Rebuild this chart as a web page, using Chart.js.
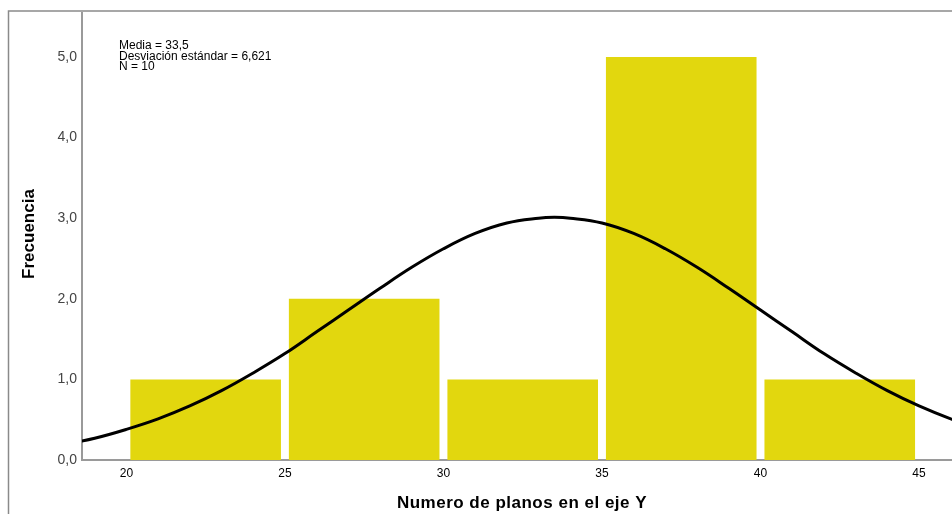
<!DOCTYPE html>
<html>
<head>
<meta charset="utf-8">
<script src="https://cdn.jsdelivr.net/npm/chart.js@4.4.1/dist/chart.umd.min.js"></script>
<style>
  html, body { margin: 0; padding: 0; background: #fff; }
  #wrap { width: 952px; height: 514px; position: relative; }
</style>
</head>
<body>
<div id="wrap"><canvas id="c" width="952" height="514"></canvas></div>
<script>
// Histogram bins (lower edge, upper edge) and their counts
const binStarts = [20, 25, 30, 35, 40];
const binEnds   = [25, 30, 35, 40, 45];
const counts    = [1, 2, 1, 5, 1];

// Fitted normal curve, sampled at whole values of the x axis
const curveX = [18, 19, 20, 21, 22, 23, 24, 25, 26, 27, 28, 29, 30, 31, 32, 33, 33.5, 34, 35, 36, 37, 38, 39, 40, 41, 42, 43, 44, 45, 46, 47];
const curveY = [0.19, 0.27, 0.38, 0.51, 0.67, 0.86, 1.08, 1.32, 1.59, 1.86, 2.13, 2.39, 2.62, 2.81, 2.94, 3.00, 3.01, 3.00, 2.94, 2.81, 2.62, 2.39, 2.13, 1.86, 1.59, 1.32, 1.08, 0.86, 0.67, 0.51, 0.38];

// Axis ticks
const xTicks = [20, 25, 30, 35, 40, 45];
const yTicks = [0, 1, 2, 3, 4, 5];

// Summary statistics
const statLines = ['Media = 33,5', 'Desviación estándar = 6,621', 'N = 10'];

const barData = binStarts.map((s, i) => ({ x: (s + binEnds[i]) / 2, y: counts[i] }));
const lineData = curveX.map((x, i) => ({ x: x, y: curveY[i] }));

const FONT = '"Liberation Sans", Arial, sans-serif';

const framePlugin = {
  id: 'frame',
  afterDraw(chart) {
    const ctx = chart.ctx;
    ctx.save();
    // outer frame: left and top edges
    ctx.strokeStyle = '#8a8a8a';
    ctx.lineWidth = 1.5;
    ctx.beginPath();
    ctx.moveTo(8.5, 514);
    ctx.lineTo(8.5, 11);
    ctx.lineTo(952, 11);
    ctx.stroke();

    // statistics box
    ctx.fillStyle = '#000';
    ctx.font = '12px ' + FONT;
    ctx.textBaseline = 'alphabetic';
    ctx.textAlign = 'left';
    statLines.forEach((t, i) => ctx.fillText(t, 119, 49 + i * 10.5));

    // axis titles
    ctx.font = 'bold 17px ' + FONT;
    ctx.textAlign = 'center';
    ctx.textBaseline = 'alphabetic';
    ctx.letterSpacing = '0.5px';
    ctx.fillText('Numero de planos en el eje Y', 522, 508);
    ctx.letterSpacing = '0px';
    ctx.textBaseline = 'middle';
    ctx.translate(29, 234);
    ctx.rotate(-Math.PI / 2);
    ctx.fillText('Frecuencia', 0, 0);
    ctx.restore();
  }
};

new Chart(document.getElementById('c'), {
  data: {
    datasets: [
      {
        type: 'line',
        data: lineData,
        borderColor: '#000',
        borderWidth: 3,
        pointRadius: 0,
        tension: 0.4,
        fill: false,
        order: 0
      },
      {
        type: 'bar',
        data: barData,
        backgroundColor: '#e2d70e',
        borderWidth: 0,
        categoryPercentage: 1.0,
        barPercentage: 0.95,
        order: 1
      }
    ]
  },
  options: {
    responsive: false,
    animation: false,
    devicePixelRatio: 1,
    layout: { padding: { top: 11, right: 0, left: 0, bottom: 0 } },
    plugins: { legend: { display: false }, tooltip: { enabled: false } },
    scales: {
      x: {
        type: 'linear',
        offset: false,
        min: 18.6,
        max: 46.04,
        grid: { display: false, drawTicks: false },
        border: { display: true, color: '#9a9a9a', width: 2 },
        afterBuildTicks: (s) => { s.ticks = xTicks.map(v => ({ value: v })); },
        afterFit: (s) => { s.height = 54; },
        ticks: {
          color: '#000',
          font: { family: FONT, size: 12 },
          padding: 6,
          maxRotation: 0,
          callback: (v) => String(v)
        }
      },
      y: {
        type: 'linear',
        min: 0,
        max: 5.54,
        grid: { display: false, drawTicks: false },
        border: { display: true, color: '#9a9a9a', width: 2 },
        afterBuildTicks: (s) => { s.ticks = yTicks.map(v => ({ value: v })); },
        afterFit: (s) => { s.width = 82; },
        ticks: {
          color: '#444',
          font: { family: FONT, size: 14 },
          padding: 5,
          callback: (v) => Number(v).toFixed(1).replace('.', ',')
        }
      }
    }
  },
  plugins: [framePlugin]
});
</script>
</body>
</html>
